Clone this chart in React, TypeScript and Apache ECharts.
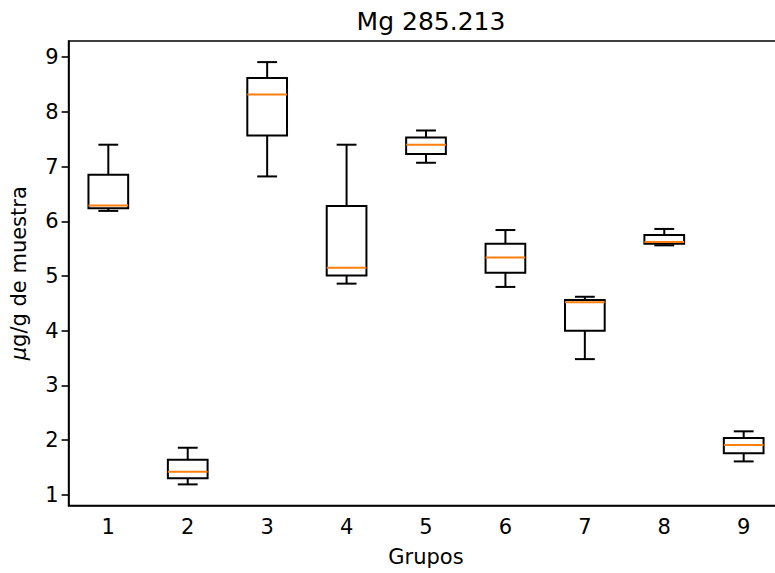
import React, { useEffect, useRef } from "react";
import * as echarts from "echarts";

const groups = ["1", "2", "3", "4", "5", "6", "7", "8", "9"];
const whiskerLow = [6.19, 1.19, 6.82, 4.86, 7.07, 4.8, 3.48, 5.56, 1.61];
const q1 = [6.24, 1.3, 7.57, 5.01, 7.23, 5.06, 4.0, 5.59, 1.76];
const median = [6.29, 1.42, 8.32, 5.15, 7.4, 5.34, 4.52, 5.62, 1.91];
const q3 = [6.85, 1.64, 8.62, 6.28, 7.53, 5.59, 4.56, 5.75, 2.04];
const whiskerHigh = [7.4, 1.86, 8.91, 7.4, 7.66, 5.84, 4.62, 5.86, 2.16];
const yTicks = [1, 2, 3, 4, 5, 6, 7, 8, 9];

const FONT = "DejaVu Sans";

export default function App() {
  const ref = useRef<HTMLDivElement>(null);
  useEffect(() => {
    if (!ref.current) return;
    const chart = echarts.init(ref.current, null, { renderer: "svg" });
    const lo = Math.min(...whiskerLow);
    const hi = Math.max(...whiskerHigh);
    const pad = (hi - lo) * 0.05;
    const data = groups.map((g, i) => [i, whiskerLow[i], q1[i], median[i], q3[i], whiskerHigh[i]]);
    chart.setOption({
      animation: false,
      backgroundColor: "#fff",
      title: {
        text: "Mg 285.213",
        left: 426,
        top: 4,
        textAlign: "center",
        textStyle: { fontFamily: FONT, fontSize: 25, fontWeight: "normal", color: "#000" },
      },
      grid: {
        left: 68.6,
        top: 41,
        width: 714.8,
        height: 464.5,
        show: true,
        borderColor: "#000",
        borderWidth: 1.6,
        containLabel: false,
      },
      xAxis: {
        type: "category",
        data: groups,
        boundaryGap: true,
        name: "Grupos",
        nameLocation: "middle",
        nameGap: 41,
        nameTextStyle: { fontFamily: FONT, fontSize: 21, color: "#000" },
        axisLine: { lineStyle: { color: "#000", width: 1.6 } },
        axisTick: { alignWithLabel: true, length: 7, lineStyle: { color: "#000", width: 1.6 } },
        axisLabel: { fontFamily: FONT, fontSize: 21, color: "#000", margin: 11 },
        splitLine: { show: false },
      },
      yAxis: {
        type: "value",
        min: lo - pad,
        max: hi + pad,
        name: "{i|μ}g/g de muestra",
        nameLocation: "middle",
        nameGap: 39,
        nameTextStyle: {
          fontFamily: FONT,
          fontSize: 21,
          color: "#000",
          rich: { i: { fontFamily: FONT, fontSize: 21, fontStyle: "italic", color: "#000" } },
        },
        axisLine: { show: true, lineStyle: { color: "#000", width: 1.6 } },
        axisTick: { show: true, length: 7, customValues: yTicks, lineStyle: { color: "#000", width: 1.6 } },
        axisLabel: { fontFamily: FONT, fontSize: 21, color: "#000", margin: 10, customValues: yTicks },
        splitLine: { show: false },
      },
      series: [
        {
          type: "custom",
          data,
          encode: { x: 0, y: [1, 2, 3, 4, 5] },
          clip: false,
          renderItem: (params: any, api: any) => {
            const idx = api.value(0);
            const pLow = api.coord([idx, api.value(1)]);
            const pQ1 = api.coord([idx, api.value(2)]);
            const pMed = api.coord([idx, api.value(3)]);
            const pQ3 = api.coord([idx, api.value(4)]);
            const pHigh = api.coord([idx, api.value(5)]);
            const cx = pLow[0];
            const band = api.size([1, 0])[0];
            const bw = band * 0.5;
            const cw = bw * 0.5;
            const black = { stroke: "#000", lineWidth: 2, fill: null };
            return {
              type: "group",
              children: [
                { type: "line", shape: { x1: cx, y1: pQ1[1], x2: cx, y2: pLow[1] }, style: black },
                { type: "line", shape: { x1: cx, y1: pQ3[1], x2: cx, y2: pHigh[1] }, style: black },
                { type: "line", shape: { x1: cx - cw / 2, y1: pLow[1], x2: cx + cw / 2, y2: pLow[1] }, style: black },
                { type: "line", shape: { x1: cx - cw / 2, y1: pHigh[1], x2: cx + cw / 2, y2: pHigh[1] }, style: black },
                {
                  type: "rect",
                  shape: { x: cx - bw / 2, y: pQ3[1], width: bw, height: pQ1[1] - pQ3[1] },
                  style: { stroke: "#000", lineWidth: 2, fill: "none" },
                },
                {
                  type: "line",
                  shape: { x1: cx - bw / 2, y1: pMed[1], x2: cx + bw / 2, y2: pMed[1] },
                  style: { stroke: "#ff7f0e", lineWidth: 2 },
                },
              ],
            };
          },
        },
      ],
    });
    return () => chart.dispose();
  }, []);
  return (
    <div style={{ position: "fixed", left: 0, top: 0, width: 775, height: 573, overflow: "hidden", background: "#fff" }}>
      <div ref={ref} style={{ width: 800, height: 573 }} />
    </div>
  );
}
